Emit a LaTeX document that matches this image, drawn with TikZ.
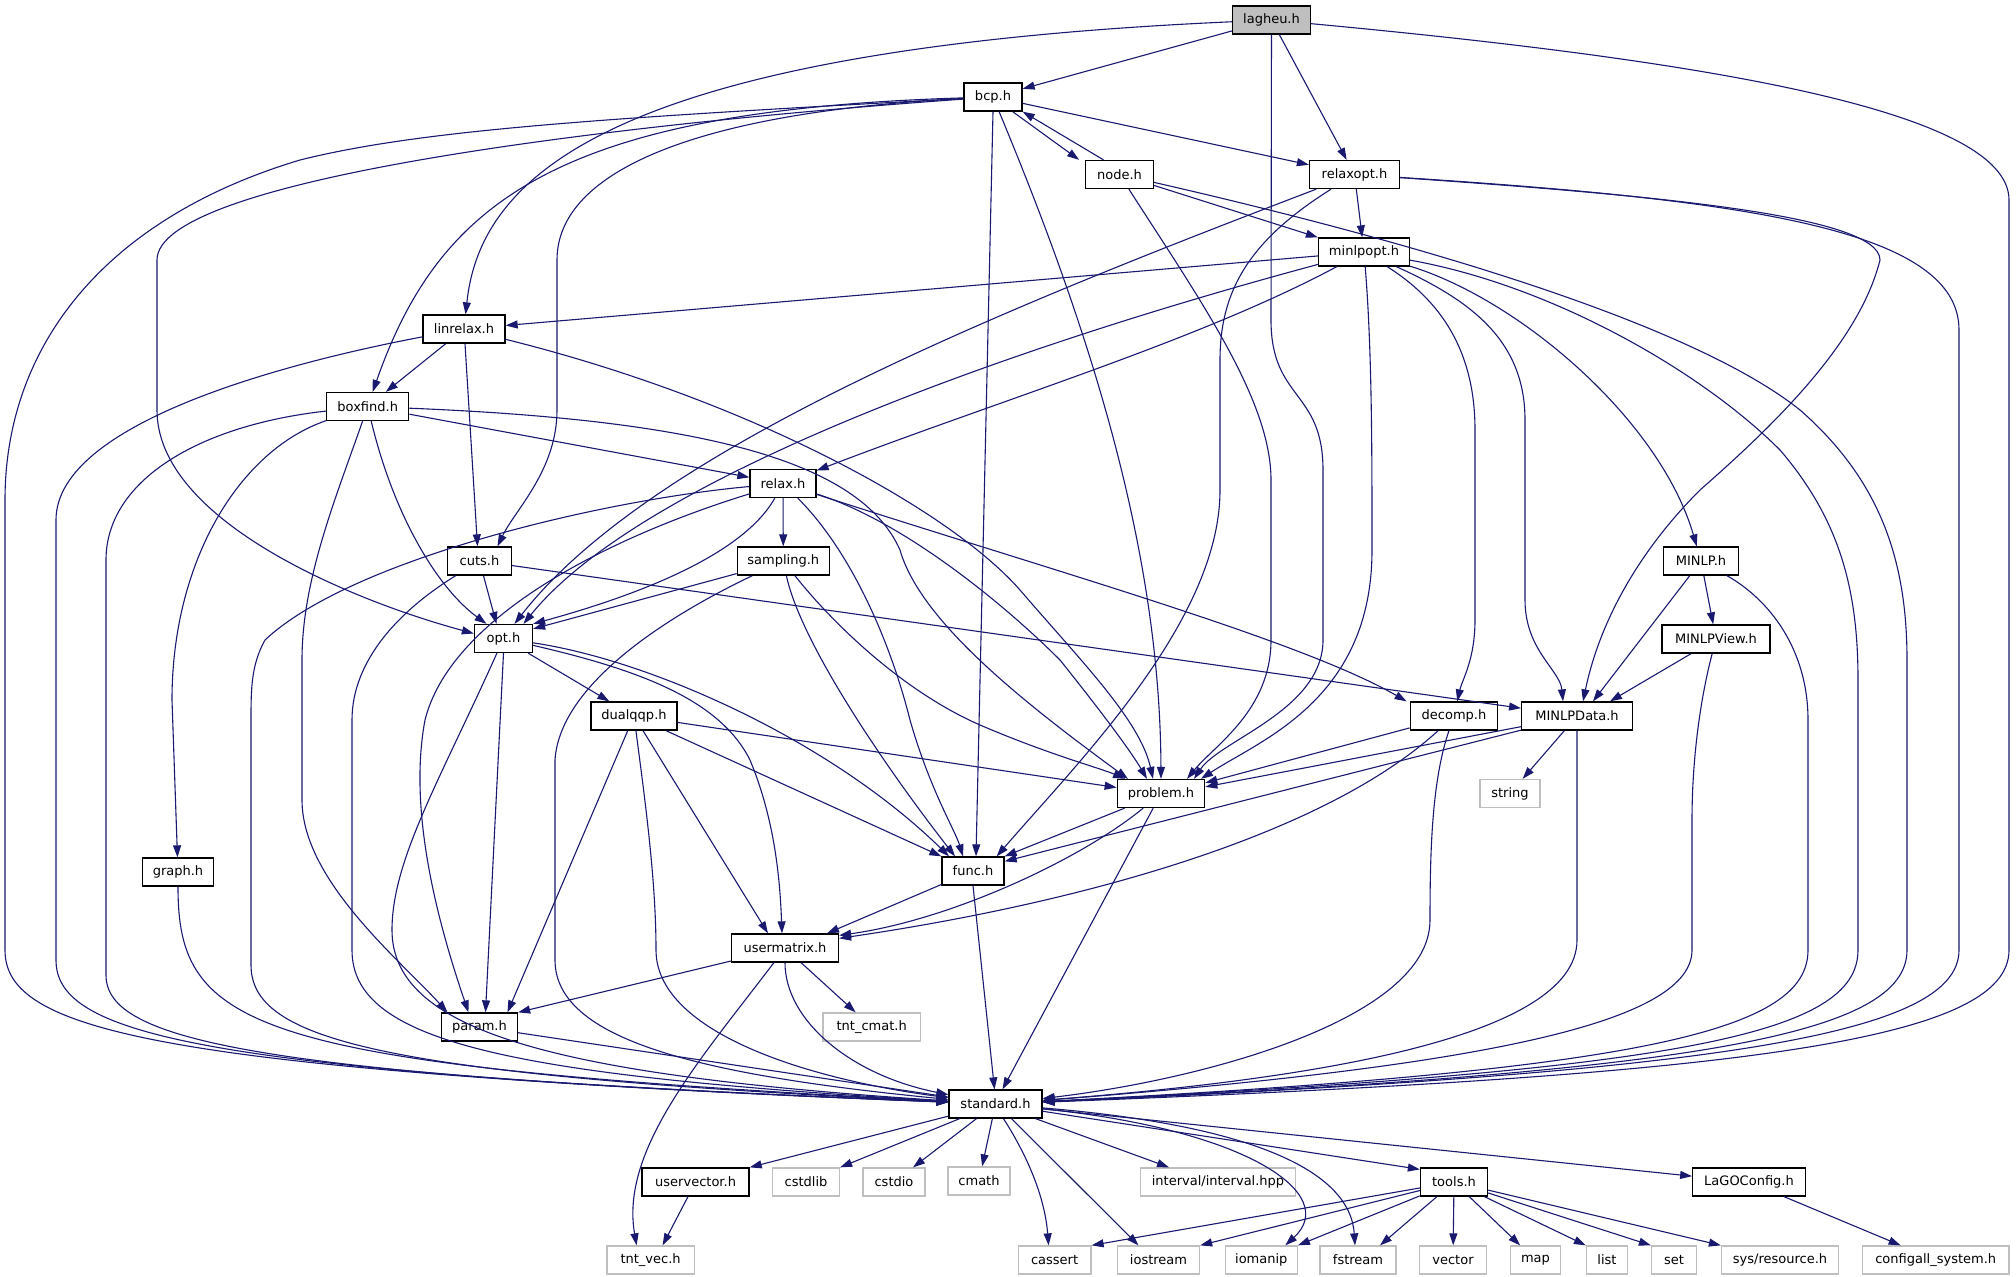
\documentclass[tikz,border=0pt]{standalone}
\usepackage{fontspec}
\setmainfont{DejaVu Sans}
\usetikzlibrary{arrows.meta}
\definecolor{edgeblue}{RGB}{25,25,112}
\definecolor{grey75}{RGB}{191,191,191}
\tikzset{
  box/.style={draw=black, line width=1.3pt, fill=white, minimum height=28pt, inner sep=0pt, font=\fontsize{13}{15}\selectfont, text=black},
  ext/.style={box, draw=grey75},
  dep/.style={draw=edgeblue, line width=1.1pt, -{Triangle[length=12pt,width=8pt]}}
}
\begin{document}
\begin{tikzpicture}[x=1pt,y=-1pt]
\useasboundingbox (0,0) rectangle (2016,1277);
% nodes
\node[box, fill=grey75, minimum width=78pt] (lagheu) at (1271.5,20) {lagheu.h};
\node[box, minimum width=58pt] (bcp) at (993,97) {bcp.h};
\node[box, minimum width=67.5pt] (nodeh) at (1119.5,174.5) {node.h};
\node[box, minimum width=90pt] (relaxopt) at (1354.5,174.5) {relaxopt.h};
\node[box, minimum width=91pt] (minlpopt) at (1364,252) {minlpopt.h};
\node[box, minimum width=82pt] (linrelax) at (464,329) {linrelax.h};
\node[box, minimum width=82pt] (boxfind) at (367.7,406.5) {boxfind.h};
\node[box, minimum width=66pt] (relax) at (783,483.5) {relax.h};
\node[box, minimum width=64pt] (cuts) at (479.5,561) {cuts.h};
\node[box, minimum width=92pt] (sampling) at (783.3,561) {sampling.h};
\node[box, minimum width=75pt] (MINLP) at (1701,561) {MINLP.h};
\node[box, minimum width=58pt] (opt) at (503.5,638.5) {opt.h};
\node[box, minimum width=108pt] (MINLPView) at (1716,639) {MINLPView.h};
\node[box, minimum width=86pt] (dualqqp) at (634,716) {dualqqp.h};
\node[box, minimum width=87.5pt] (decomp) at (1454,716) {decomp.h};
\node[box, minimum width=110.6pt] (MINLPData) at (1577,716) {MINLPData.h};
\node[box, minimum width=87.4pt] (problem) at (1161,793.5) {problem.h};
\node[ext, minimum width=60pt] (string) at (1510,793.5) {string};
\node[box, minimum width=70.7pt] (graph) at (178,872) {graph.h};
\node[box, minimum width=62pt] (func) at (973,871) {func.h};
\node[box, minimum width=107pt] (usermatrix) at (785,948) {usermatrix.h};
\node[box, minimum width=76pt] (param) at (479.5,1027) {param.h};
\node[ext, minimum width=97.7pt] (tntcmat) at (871.7,1027) {tnt\_cmat.h};
\node[box, minimum width=93pt] (standard) at (995.5,1104) {standard.h};
\node[box, minimum width=107pt] (uservector) at (695.6,1182) {uservector.h};
\node[ext, minimum width=67pt] (cstdlib) at (806,1182) {cstdlib};
\node[ext, minimum width=62pt] (cstdio) at (894,1182) {cstdio};
\node[ext, minimum width=62pt] (cmath) at (979,1181) {cmath};
\node[ext, minimum width=155.6pt] (interval) at (1218,1182) {interval/interval.hpp};
\node[box, minimum width=67pt] (tools) at (1454,1182) {tools.h};
\node[box, minimum width=112.5pt] (lagoconfig) at (1749,1182) {LaGOConfig.h};
\node[ext, minimum width=87.4pt] (tntvec) at (650.6,1260) {tnt\_vec.h};
\node[ext, minimum width=72.7pt] (cassert) at (1054.6,1260) {cassert};
\node[ext, minimum width=82pt] (iostream) at (1158.5,1260) {iostream};
\node[ext, minimum width=72pt] (iomanip) at (1261.3,1260) {iomanip};
\node[ext, minimum width=76pt] (fstream) at (1358,1260) {fstream};
\node[ext, minimum width=67pt] (vector) at (1453,1260) {vector};
\node[ext, minimum width=49.5pt] (map) at (1535.5,1260) {map};
\node[ext, minimum width=41pt] (list) at (1607,1260) {list};
\node[ext, minimum width=45pt] (set) at (1674,1260) {set};
\node[ext, minimum width=117pt] (sysres) at (1780,1260) {sys/resource.h};
\node[ext, minimum width=146.6pt] (configall) at (1935.7,1260) {configall\_system.h};
% lagheu
\draw[dep] (lagheu) -- (bcp);
\draw[dep] (lagheu) .. controls (600,50) and (480,180) .. (linrelax);
\draw[dep] (lagheu) -- (relaxopt);
\draw[dep] (lagheu) -- (1271,320) .. controls (1271,400) and (1323,390) .. (1323,470) -- (1323,640) .. controls (1323,710) and (1220,740) .. ([xshift=33pt]problem.north);
\draw[dep] (lagheu) .. controls (1700,60) and (2009,110) .. (2009,200) -- (2009,950) .. controls (2009,1040) and (1750,1075) .. (standard);
% bcp
\draw[dep] ([xshift=-10pt]bcp.south east) -- ([xshift=-6pt]nodeh.north west);
\draw[dep] ([xshift=-16pt]nodeh.north) -- (bcp.south east);
\draw[dep] (bcp) -- (relaxopt);
\draw[dep] (bcp) .. controls (560,110) and (440,200) .. ([xshift=5pt]boxfind.north);
\draw[dep] (bcp) .. controls (700,112) and (557,170) .. (557,260) -- (557,410) .. controls (557,470) and (515,510) .. ([xshift=18pt]cuts.north);
\draw[dep] (bcp) .. controls (600,125) and (157,180) .. (157,260) -- (157,410) .. controls (157,520) and (350,600) .. ([yshift=5pt]opt.west);
\draw[dep] (bcp) .. controls (600,118) and (420,130) .. (300,160) .. controls (100,220) and (5,350) .. (5,500) -- (5,950) .. controls (5,1030) and (150,1070) .. (standard);
\draw[dep] (bcp.south) -- ([xshift=3pt]func.north);
\draw[dep] (bcp) .. controls (1090,330) and (1160,550) .. (problem.north);
% node
\draw[dep] (nodeh) -- (minlpopt);
\draw[dep] (nodeh) .. controls (1200,300) and (1271,400) .. (1271,480) -- (1271,640) .. controls (1271,710) and (1215,745) .. ([xshift=26pt]problem.north);
\draw[dep] (nodeh) .. controls (1450,250) and (1700,330) .. (1800,410) .. controls (1880,480) and (1907,560) .. (1907,660) -- (1907,950) .. controls (1907,1035) and (1700,1072) .. (standard);
% relaxopt
\draw[dep] (relaxopt) -- (minlpopt);
\draw[dep] (relaxopt) .. controls (1000,310) and (650,450) .. ([xshift=11pt]opt.north);
\draw[dep] (relaxopt) .. controls (1250,240) and (1220,290) .. (1220,360) -- (1220,490) .. controls (1220,620) and (1080,760) .. ([xshift=-8pt]func.north east);
\draw[dep] (relaxopt) .. controls (1650,195) and (1880,215) .. (1880,260) .. controls (1860,340) and (1780,420) .. (1700,490) .. controls (1640,550) and (1600,620) .. ([xshift=6pt]MINLPData.north);
\draw[dep] (relaxopt) .. controls (1750,200) and (1959,230) .. (1959,330) -- (1959,950) .. controls (1959,1035) and (1720,1072) .. (standard);
% minlpopt
\draw[dep] (minlpopt) -- (linrelax);
\draw[dep] (minlpopt) .. controls (1000,350) and (640,480) .. ([xshift=20pt]opt.north);
\draw[dep] (minlpopt) .. controls (1200,340) and (1000,400) .. (relax);
\draw[dep] (minlpopt) .. controls (1372,350) and (1372,450) .. (1372,550) .. controls (1372,700) and (1260,740) .. ([xshift=40pt]problem.north);
\draw[dep] (minlpopt) .. controls (1440,300) and (1475,350) .. (1475,430) -- (1475,620) .. controls (1475,660) and (1462,680) .. (decomp);
\draw[dep] (minlpopt) .. controls (1470,300) and (1525,340) .. (1525,420) -- (1525,600) .. controls (1525,650) and (1560,670) .. ([xshift=-14pt]MINLPData.north);
\draw[dep] (minlpopt) .. controls (1520,300) and (1660,420) .. (MINLP);
\draw[dep] (minlpopt) .. controls (1550,285) and (1700,370) .. (1780,450) .. controls (1840,520) and (1858,590) .. (1858,680) -- (1858,950) .. controls (1858,1035) and (1680,1070) .. (standard);
% linrelax
\draw[dep] (linrelax) -- (boxfind);
\draw[dep] ([xshift=1pt]linrelax.south) -- ([xshift=-2pt]cuts.north);
\draw[dep] (linrelax) .. controls (300,360) and (56,420) .. (56,520) -- (56,960) .. controls (56,1035) and (200,1072) .. (standard);
\draw[dep] (linrelax) .. controls (750,400) and (950,510) .. (1020,590) .. controls (1080,660) and (1140,720) .. ([xshift=-8pt]problem.north);
% boxfind
\draw[dep] (boxfind) -- (relax);
\draw[dep] (boxfind) .. controls (700,420) and (860,460) .. (900,550) .. controls (920,620) and (1020,700) .. ([xshift=-33pt]problem.north);
\draw[dep] (boxfind) .. controls (240,450) and (172,560) .. (172,700) -- (graph);
\draw[dep] (boxfind) .. controls (200,425) and (106,480) .. (106,560) -- (106,975) .. controls (106,1040) and (250,1075) .. (standard);
\draw[dep] (boxfind) .. controls (335,500) and (302,580) .. (302,660) -- (302,800) .. controls (302,880) and (400,960) .. ([xshift=-32pt]param.north);
\draw[dep] (boxfind) .. controls (395,520) and (440,590) .. ([xshift=-17pt]opt.north);
% relax
\draw[dep] (relax) -- (sampling);
\draw[dep] (relax) .. controls (740,560) and (620,600) .. (opt.north east);
\draw[dep] (relax) .. controls (600,540) and (450,620) .. (425,720) .. controls (410,800) and (430,900) .. ([xshift=-11pt]param.north);
\draw[dep] (relax) .. controls (600,500) and (350,560) .. (265,640) .. controls (251,665) and (251,690) .. (251,720) -- (251,965) .. controls (251,1040) and (380,1075) .. (standard);
\draw[dep] (relax) .. controls (850,550) and (890,640) .. (910,720) .. controls (930,790) and (955,830) .. ([xshift=-10pt]func.north);
\draw[dep] (relax) .. controls (900,520) and (1000,600) .. (1060,660) .. controls (1100,710) and (1130,750) .. ([xshift=-14pt]problem.north);
\draw[dep] (relax) .. controls (1050,570) and (1300,640) .. ([xshift=-3pt]decomp.north west);
% sampling
\draw[dep] (sampling) -- ([yshift=-5pt]opt.north east);
\draw[dep] (sampling) .. controls (680,610) and (560,680) .. (555,760) -- (555,960) .. controls (555,1040) and (700,1075) .. (standard);
\draw[dep] (sampling) .. controls (800,640) and (880,760) .. ([xshift=-18pt]func.north);
\draw[dep] (sampling) .. controls (830,620) and (900,690) .. (980,725) .. controls (1050,755) and (1100,768) .. ([xshift=-36pt]problem.north);
% cuts
\draw[dep] (cuts) -- ([xshift=-7pt]opt.north);
\draw[dep] (cuts) .. controls (400,610) and (352,660) .. (352,720) -- (352,950) .. controls (352,1040) and (500,1075) .. (standard);
\draw[dep] (cuts) -- (MINLPData);
% opt
\draw[dep] (opt) -- (dualqqp);
\draw[dep] (opt.south) -- ([xshift=6pt]param.north);
\draw[dep] (opt) .. controls (440,780) and (392,860) .. (392,930) .. controls (392,1030) and (550,1075) .. (standard);
\draw[dep] (opt) .. controls (650,660) and (830,740) .. ([xshift=-24pt]func.north);
\draw[dep] (opt) .. controls (640,670) and (720,700) .. (750,760) .. controls (775,820) and (780,880) .. ([xshift=-3pt]usermatrix.north);
% dualqqp
\draw[dep] (dualqqp) -- ([yshift=6pt]problem.west);
\draw[dep] (dualqqp) -- (func.north west);
\draw[dep] (dualqqp) -- ([xshift=-17pt]usermatrix.north);
\draw[dep] (dualqqp) -- ([xshift=28pt]param.north);
\draw[dep] (dualqqp) .. controls (645,800) and (656,880) .. (656,950) .. controls (656,1030) and (800,1078) .. (standard);
% decomp
\draw[dep] (decomp) -- ([yshift=-4pt]problem.north east);
\draw[dep] (decomp) .. controls (1330,830) and (1100,900) .. ([yshift=-5pt]usermatrix.north east);
\draw[dep] (decomp) .. controls (1432,780) and (1430,850) .. (1430,920) .. controls (1430,1020) and (1200,1080) .. (standard);
% MINLPData
\draw[dep] (MINLPData) -- ([yshift=-8pt]problem.north east);
\draw[dep] (MINLPData) -- ([yshift=-5pt]func.north east);
\draw[dep] (MINLPData) -- (string);
\draw[dep] (MINLPData) -- (1577,940) .. controls (1577,1040) and (1300,1080) .. (standard);
% MINLP
\draw[dep] (MINLP) -- (MINLPView);
\draw[dep] (MINLP) -- ([xshift=16pt]MINLPData.north);
\draw[dep] (MINLP) .. controls (1770,600) and (1808,650) .. (1808,720) -- (1808,950) .. controls (1808,1030) and (1650,1070) .. (standard);
% MINLPView
\draw[dep] (MINLPView) -- ([xshift=33pt]MINLPData.north);
\draw[dep] (MINLPView) .. controls (1700,700) and (1692,760) .. (1692,820) -- (1692,950) .. controls (1692,1020) and (1500,1065) .. (standard);
% problem
\draw[dep] (problem) -- (func.north east);
\draw[dep] (problem) .. controls (1080,860) and (950,920) .. ([yshift=-2pt]usermatrix.north east);
\draw[dep] (problem) -- ([xshift=7pt]standard.north);
% func
\draw[dep] (func) -- ([xshift=42pt]usermatrix.north);
\draw[dep] (func.south) -- ([xshift=-1pt]standard.north);
% usermatrix
\draw[dep] (usermatrix) -- (param.north east);
\draw[dep] (usermatrix) -- (tntcmat);
\draw[dep] (usermatrix) .. controls (785,1020) and (850,1075) .. (standard);
\draw[dep] (usermatrix) .. controls (700,1060) and (620,1150) .. ([xshift=-14pt]tntvec.north);
% param, graph
\draw[dep] (param) -- (standard);
\draw[dep] (graph) .. controls (178,1030) and (250,1065) .. (standard);
% standard
\draw[dep] (standard) -- (uservector.north east);
\draw[dep] (standard) -- (cstdlib.north east);
\draw[dep] (standard) -- (cstdio);
\draw[dep] (standard) -- (cmath);
\draw[dep] ([xshift=8pt]standard.south) .. controls (1030,1160) and (1045,1200) .. ([xshift=-6pt]cassert.north);
\draw[dep] ([xshift=16pt]standard.south) -- ([xshift=-20pt]iostream.north);
\draw[dep] (standard) -- ([xshift=-49pt]interval.north);
\draw[dep] (standard) .. controls (1250,1130) and (1340,1195) .. ([xshift=24pt]iomanip.north);
\draw[dep] (standard) .. controls (1250,1125) and (1350,1170) .. ([xshift=-3pt]fstream.north);
\draw[dep] (standard) -- ([yshift=-2pt]tools.north west);
\draw[dep] (standard) -- (lagoconfig);
% uservector, tools, LaGOConfig
\draw[dep] (uservector) -- ([xshift=12pt]tntvec.north);
\draw[dep] (tools) -- (cassert.north east);
\draw[dep] (tools) -- (iostream.north east);
\draw[dep] (tools) -- (iomanip.north east);
\draw[dep] (tools) -- ([xshift=22pt]fstream.north);
\draw[dep] (tools) -- (vector);
\draw[dep] (tools) -- (map);
\draw[dep] (tools) -- (list.north west);
\draw[dep] (tools) -- (set.north west);
\draw[dep] (tools) -- (sysres.north west);
\draw[dep] (lagoconfig) -- (configall);
\end{tikzpicture}
\end{document}
